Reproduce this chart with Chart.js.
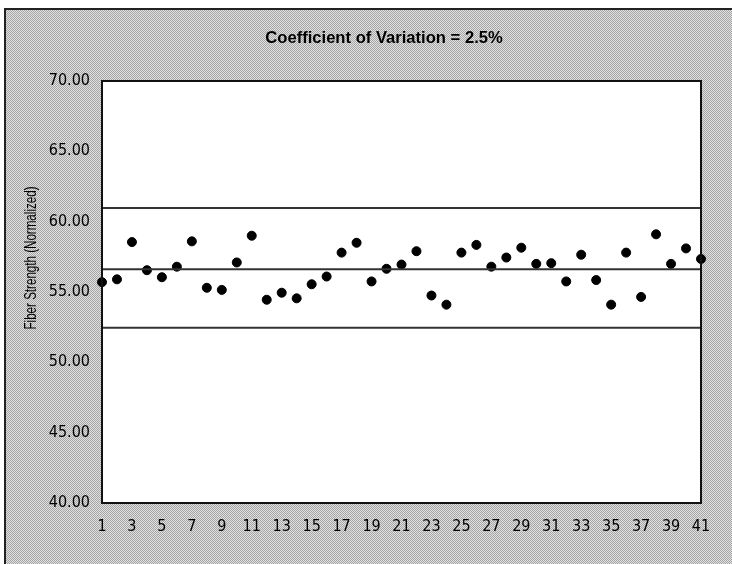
<!DOCTYPE html>
<html>
<head>
<meta charset="utf-8">
<script src="https://cdn.jsdelivr.net/npm/chart.js@4/dist/chart.umd.min.js"></script>
<style>
  html, body { margin: 0; padding: 0; background: #ffffff; }
  #c { display: block; }
</style>
</head>
<body>
<canvas id="c" width="732" height="564"></canvas>
<script>
// ---- data ----
const chartTitle = "Coefficient of Variation = 2.5%";
const yAxisTitle = "Fiber Strength (Normalized)";
const sampleNumbers = [1,2,3,4,5,6,7,8,9,10,11,12,13,14,15,16,17,18,19,20,21,22,23,24,25,26,27,28,29,30,31,32,33,34,35,36,37,38,39,40,41];
const fiberStrength = [55.7,55.9,58.55,56.55,56.05,56.8,58.6,55.3,55.15,57.1,59.0,54.45,54.95,54.55,55.55,56.1,57.8,58.5,55.75,56.65,56.95,57.9,54.75,54.1,57.8,58.35,56.8,57.45,58.15,57.0,57.05,55.75,57.65,55.85,54.1,57.8,54.65,59.1,57.0,58.1,57.35];
const upperLimit = 60.97;
const centerLine = 56.62;
const lowerLimit = 52.45;
const yMin = 40, yMax = 70, yStep = 5;
const xMin = 1, xMax = 41, xStep = 2;

const points = sampleNumbers.map((x, i) => ({ x: x, y: fiberStrength[i] }));
const hLine = v => [{ x: xMin, y: v }, { x: xMax, y: v }];

// dithered gray background pattern
function makePattern(ctx) {
  const p = document.createElement('canvas');
  p.width = 2; p.height = 2;
  const pc = p.getContext('2d');
  pc.fillStyle = '#e0e0e0'; pc.fillRect(0, 0, 2, 2);
  pc.fillStyle = '#a6a6a6'; pc.fillRect(0, 0, 1, 1); pc.fillRect(1, 1, 1, 1);
  return ctx.createPattern(p, 'repeat');
}

const framePlugin = {
  id: 'frame',
  beforeDraw(chart) {
    const ctx = chart.ctx;
    const a = chart.chartArea;
    ctx.save();
    ctx.fillStyle = '#ffffff';
    ctx.fillRect(0, 0, chart.width, chart.height);
    ctx.fillStyle = makePattern(ctx);
    ctx.fillRect(5, 9, chart.width - 5, chart.height - 9);
    ctx.strokeStyle = '#222';
    ctx.lineWidth = 2;
    ctx.beginPath();
    ctx.moveTo(5, chart.height); ctx.lineTo(5, 9); ctx.lineTo(chart.width, 9);
    ctx.stroke();
    ctx.fillStyle = '#ffffff';
    ctx.fillRect(a.left, a.top, a.right - a.left, a.bottom - a.top);
    // titles
    ctx.fillStyle = '#000';
    ctx.textAlign = 'center';
    ctx.textBaseline = 'middle';
    ctx.font = 'bold 16.6px "Liberation Sans", Arial, sans-serif';
    ctx.fillText(chartTitle, 384, 38);
    ctx.translate(31, 258);
    ctx.rotate(-Math.PI / 2);
    ctx.font = '17px "Liberation Sans", Arial, sans-serif';
    const w = ctx.measureText(yAxisTitle).width;
    ctx.scale(143 / w, 1);
    ctx.fillText(yAxisTitle, 0, 0);
    ctx.restore();
  },
  afterDraw(chart) {
    const ctx = chart.ctx;
    const a = chart.chartArea;
    ctx.save();
    ctx.strokeStyle = '#111';
    ctx.lineWidth = 2;
    ctx.strokeRect(a.left, a.top, a.right - a.left, a.bottom - a.top);
    ctx.restore();
  }
};

const tickFont = { family: '"DejaVu Sans Condensed", "Liberation Sans Narrow", "Liberation Sans", sans-serif', size: 16 };

new Chart(document.getElementById('c'), {
  type: 'scatter',
  data: {
    datasets: [
      { label: 'UCL', data: hLine(upperLimit), type: 'line', borderColor: '#333', borderWidth: 2, pointRadius: 0, fill: false },
      { label: 'Center', data: hLine(centerLine), type: 'line', borderColor: '#333', borderWidth: 2, pointRadius: 0, fill: false },
      { label: 'LCL', data: hLine(lowerLimit), type: 'line', borderColor: '#333', borderWidth: 2, pointRadius: 0, fill: false },
      { label: 'Fiber Strength', data: points, backgroundColor: '#000', borderColor: '#000', pointRadius: 4.5, pointHoverRadius: 4.5, clip: false }
    ]
  },
  options: {
    responsive: false,
    animation: false,
    events: [],
    layout: { autoPadding: false, padding: { left: 0, right: 31, top: 81, bottom: 0 } },
    plugins: { legend: { display: false }, title: { display: false }, tooltip: { enabled: false } },
    scales: {
      x: {
        type: 'linear', min: xMin, max: xMax,
        grid: { display: false, drawTicks: false },
        border: { display: false },
        ticks: { stepSize: xStep, color: '#000', font: tickFont, padding: 14, maxRotation: 0, autoSkip: false },
        afterFit(s) { s.height = 61; }
      },
      y: {
        min: yMin, max: yMax,
        grid: { display: false, drawTicks: false },
        border: { display: false },
        ticks: { stepSize: yStep, color: '#000', font: tickFont, padding: 12, callback: v => Number(v).toFixed(2) },
        afterFit(s) { s.width = 102; }
      }
    }
  },
  plugins: [framePlugin]
});
</script>
</body>
</html>
